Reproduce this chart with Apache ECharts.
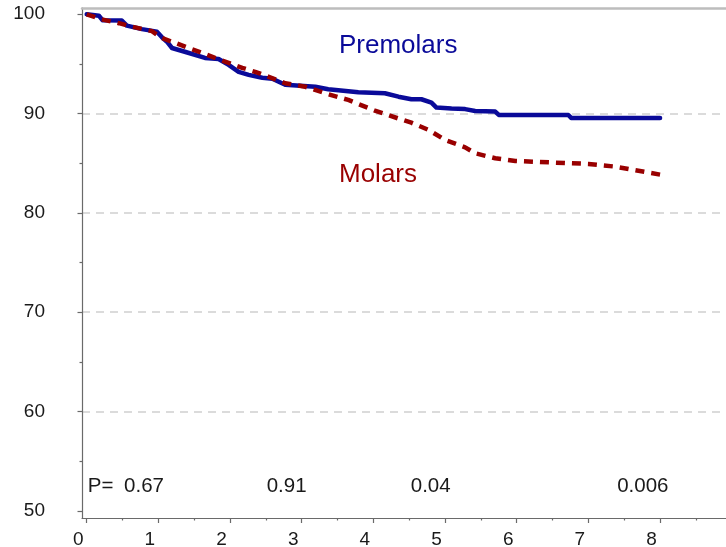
<!DOCTYPE html>
<html>
<head>
<meta charset="utf-8">
<script src="https://cdn.jsdelivr.net/npm/echarts@6/dist/echarts.min.js"></script>
<style>
  html, body { margin: 0; padding: 0; background: #ffffff; }
  #chart { width: 726px; height: 547px; }
</style>
</head>
<body>
<div id="chart"></div>
<script>
// Survival (%) over time (years) for the two tooth groups
const premolarsT = [0, 0.17, 0.22, 0.49, 0.56, 0.77, 0.98, 1.06, 1.12, 1.19, 1.38, 1.65, 1.84, 1.98, 2.12, 2.26, 2.45, 2.59, 2.77, 3.19, 3.37, 3.79, 4.16, 4.35, 4.53, 4.67, 4.81, 4.88, 5.09, 5.28, 5.42, 5.70, 5.75, 6.72, 6.76, 8.0];
const premolarsS = [100, 99.86, 99.4, 99.36, 98.85, 98.5, 98.25, 97.6, 97.24, 96.6, 96.2, 95.6, 95.5, 94.9, 94.2, 93.9, 93.6, 93.5, 92.9, 92.7, 92.45, 92.15, 92.04, 91.7, 91.44, 91.44, 91.1, 90.6, 90.5, 90.45, 90.26, 90.2, 89.86, 89.86, 89.56, 89.56];

const molarsT = [0, 0.2, 0.45, 0.63, 0.91, 1.05, 1.24, 1.42, 1.61, 1.79, 1.98, 2.17, 2.35, 2.54, 2.77, 3.05, 3.33, 3.65, 4.02, 4.35, 4.53, 4.77, 5.0, 5.28, 5.42, 5.70, 5.98, 6.53, 7.0, 7.37, 7.65, 8.0];
const molarsS = [100, 99.5, 99.1, 98.75, 98.3, 97.6, 97.1, 96.6, 96.1, 95.6, 95.1, 94.6, 94.2, 93.7, 93.05, 92.7, 92.04, 91.37, 90.3, 89.5, 89.08, 88.35, 87.34, 86.6, 86.0, 85.5, 85.23, 85.06, 84.93, 84.66, 84.3, 83.85];

// Axis ticks
const xMajorTicks = [0, 1, 2, 3, 4, 5, 6, 7, 8];
const xMinorTicks = [0.5, 1.5, 2.5, 3.5, 4.5, 5.5, 6.5, 7.5, 8.5];
const yMajorTicks = [50, 60, 70, 80, 90, 100];
const yMinorTicks = [55, 65, 75, 85, 95];
const yGridLines = [60, 70, 80, 90];

// P-values printed along the bottom, with their time positions
const pPrefix = 'P=';
const pPrefixX = 0.014;
const pValues = ['0.67', '0.91', '0.04', '0.006'];
const pValueX = [0.8, 2.79, 4.8, 7.76];
const pRowY = 52.45;

// Group names written next to the curves
const groupNames = ['Premolars', 'Molars'];
const groupNameX = [3.52, 3.52];
const groupNameY = [96.85, 83.8];

const X_MIN = -0.0656, X_MAX = 8.92;
const Y_MIN = 49.27, Y_MAX = 100.63;

const FONT = '"Liberation Sans", Arial, sans-serif';
const BLUE = '#0a0a99';
const RED = '#990000';
const TEXT = '#1a1a1a';
const AXIS_GRAY = '#6a6a6a';

const zip = (a, b) => a.map((v, i) => [v, b[i]]);

const baseX = { type: 'value', min: X_MIN, max: X_MAX, splitLine: { show: false } };
const baseY = { type: 'value', min: Y_MIN, max: Y_MAX, splitLine: { show: false } };

const pItems = [{ value: [pPrefixX, pRowY, pPrefix], label: { align: 'left' } }]
  .concat(pValueX.map((x, i) => ({ value: [x, pRowY, pValues[i]] })));

const nameItems = groupNames.map((n, i) => ({
  value: [groupNameX[i], groupNameY[i], n],
  label: { color: i === 0 ? BLUE : RED }
}));

const chart = echarts.init(document.getElementById('chart'), null, { renderer: 'canvas' });
chart.setOption({
  animation: false,
  backgroundColor: '#ffffff',
  grid: { left: 82, right: 0, top: 8, bottom: 29, containLabel: false, outerBoundsMode: 'none' },
  xAxis: [
    Object.assign({}, baseX, {
      position: 'bottom',
      axisLine: { onZero: false, lineStyle: { color: AXIS_GRAY, width: 1.2 } },
      axisTick: { customValues: xMajorTicks, length: 5, lineStyle: { color: AXIS_GRAY, width: 1.2 } },
      axisLabel: { customValues: xMajorTicks, margin: 12, padding: [0, 17, 0, 0], color: TEXT, fontSize: 19, fontFamily: FONT }
    }),
    Object.assign({}, baseX, {
      position: 'bottom',
      axisLine: { show: false, onZero: false },
      axisTick: { customValues: xMinorTicks, length: 2.5, lineStyle: { color: AXIS_GRAY, width: 1.2 } },
      axisLabel: { show: false }
    }),
    Object.assign({}, baseX, {
      position: 'top',
      axisLine: { onZero: false, lineStyle: { color: '#bdbdbd', width: 2.5 } },
      axisTick: { show: false },
      axisLabel: { show: false }
    })
  ],
  yAxis: [
    Object.assign({}, baseY, {
      position: 'left',
      axisLine: { onZero: false, lineStyle: { color: AXIS_GRAY, width: 1.2 } },
      axisTick: { customValues: yMajorTicks, length: 4.5, lineStyle: { color: AXIS_GRAY, width: 1.2 } },
      axisLabel: { customValues: yMajorTicks, margin: 37, color: TEXT, fontSize: 19, fontFamily: FONT }
    }),
    Object.assign({}, baseY, {
      position: 'left',
      axisLine: { show: false, onZero: false },
      axisTick: { customValues: yMinorTicks, length: 2.5, lineStyle: { color: AXIS_GRAY, width: 1.2 } },
      axisLabel: { show: false }
    }),
    Object.assign({}, baseY, {
      position: 'left',
      axisLine: { show: false, onZero: false },
      axisTick: { show: false, customValues: yGridLines },
      axisLabel: { show: false },
      splitLine: { show: true, lineStyle: { color: '#cfcfcf', width: 1.5, type: [8, 6] } }
    })
  ],
  series: [
    {
      name: groupNames[0],
      type: 'line',
      data: zip(premolarsT, premolarsS),
      symbol: 'none',
      lineStyle: { color: BLUE, width: 4.5, join: 'round', cap: 'round' },
      z: 3
    },
    {
      name: groupNames[1],
      type: 'line',
      data: zip(molarsT, molarsS),
      symbol: 'none',
      lineStyle: { color: RED, width: 4.5, type: [9, 7], cap: 'butt' },
      z: 4
    },
    {
      type: 'scatter',
      silent: true,
      symbolSize: 0,
      itemStyle: { opacity: 1 },
      data: pItems,
      label: {
        show: true,
        position: 'inside',
        formatter: p => p.value[2],
        color: TEXT,
        fontSize: 20.5,
        fontFamily: FONT
      }
    },
    {
      type: 'scatter',
      silent: true,
      symbolSize: 0,
      itemStyle: { opacity: 1 },
      data: nameItems,
      label: {
        show: true,
        position: 'right',
        distance: 0,
        align: 'left',
        verticalAlign: 'middle',
        formatter: p => p.value[2],
        fontSize: 26,
        fontFamily: FONT
      }
    }
  ]
});
</script>
</body>
</html>
